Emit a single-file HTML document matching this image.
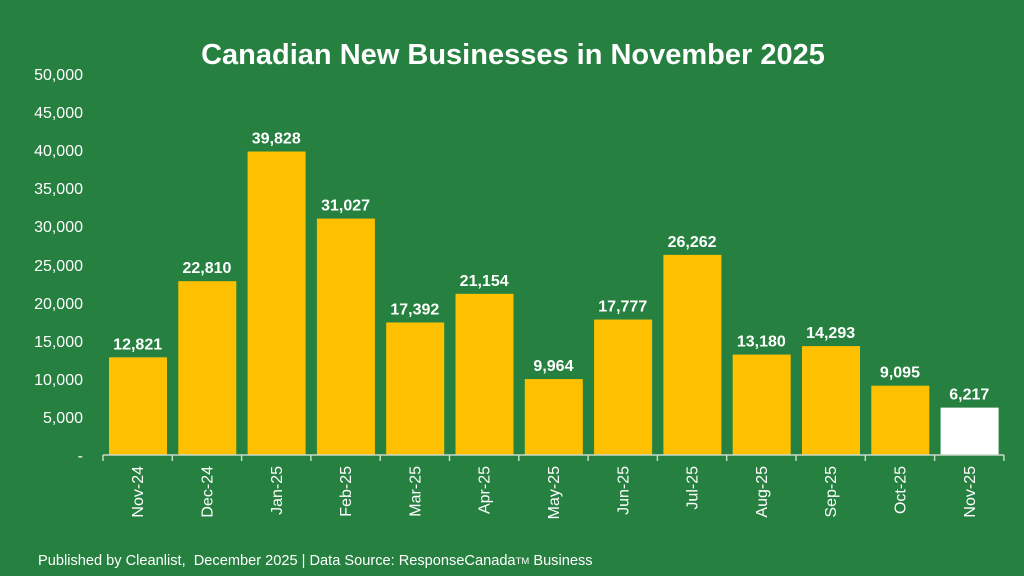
<!DOCTYPE html>
<html><head><meta charset="utf-8"><style>
html,body{margin:0;padding:0;background:#268040;}
svg{display:block;font-family:"Liberation Sans",Arial,sans-serif;}
</style></head><body>
<svg width="1024" height="576" viewBox="0 0 1024 576">
<rect width="1024" height="576" fill="#268040"/>
<text x="513" y="64" text-anchor="middle" fill="#fff" font-size="29" font-weight="bold">Canadian New Businesses in November 2025</text>
<g fill="#fff" font-size="16" text-anchor="end">
<text x="83" y="461">-</text>
<text x="83" y="423">5,000</text>
<text x="83" y="385">10,000</text>
<text x="83" y="347">15,000</text>
<text x="83" y="309">20,000</text>
<text x="83" y="271">25,000</text>
<text x="83" y="232">30,000</text>
<text x="83" y="194">35,000</text>
<text x="83" y="156">40,000</text>
<text x="83" y="118">45,000</text>
<text x="83" y="80">50,000</text>
</g>
<g id="bars"></g>
<line x1="103" y1="455" x2="1004" y2="455" stroke="#c9d9c9" stroke-width="1.5"/>
<g id="ticks" stroke="#c9d9c9" stroke-width="1.5"></g>
<g id="labels"></g>
<text x="38" y="565" fill="#fff" font-size="14.6">Published by Cleanlist,&#160; December 2025 | Data Source: ResponseCanada<tspan font-size="9.5" dy="-1">TM</tspan><tspan dy="1"> Business</tspan></text>
<script>
var d=[["Nov-24",12821],["Dec-24",22810],["Jan-25",39828],["Feb-25",31027],["Mar-25",17392],["Apr-25",21154],["May-25",9964],["Jun-25",17777],["Jul-25",26262],["Aug-25",13180],["Sep-25",14293],["Oct-25",9095],["Nov-25",6217]];
var ns="http://www.w3.org/2000/svg",B=document.getElementById("bars"),T=document.getElementById("ticks"),L=document.getElementById("labels");
function el(t,a,p,txt){var e=document.createElementNS(ns,t);for(var k in a)e.setAttribute(k,a[k]);if(txt)e.textContent=txt;p.appendChild(e);return e;}
var step=69.3,x0=103,base=455,k=381/50000;
for(var i=0;i<=13;i++){var x=x0+i*step;el("line",{x1:x,y1:455,x2:x,y2:461},T);}
d.forEach(function(v,i){var x=x0+i*step+6,h=v[1]*k,c=x0+i*step+step/2;
el("rect",{x:x,y:base-h,width:58,height:h,fill:i==12?"#fff":"#ffc000"},B);
el("text",{x:c,y:base-h-8,"text-anchor":"middle",fill:"#fff","font-size":"16","font-weight":"bold"},L,v[1].toLocaleString("en-US"));
el("text",{x:0,y:0,"text-anchor":"end",fill:"#fff","font-size":"16",transform:"translate("+(c+5.5)+",466) rotate(-90)"},L,v[0]);
});
</script>
</svg>
</body></html>
